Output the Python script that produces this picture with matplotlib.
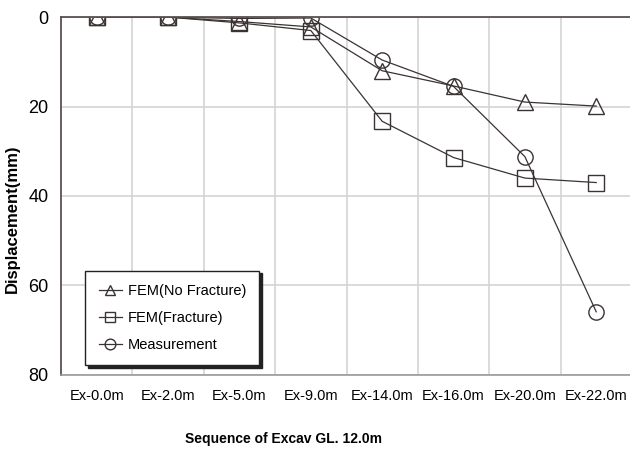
import numpy as np
import matplotlib
matplotlib.use("Agg")
import matplotlib.pyplot as plt

categories = ["Ex-0.0m", "Ex-2.0m", "Ex-5.0m", "Ex-9.0m", "Ex-14.0m", "Ex-16.0m", "Ex-20.0m", "Ex-22.0m"]
fem_no_fracture = [0, 0, 1.0, 2.2, 12.0, 15.4, 19.0, 19.9]
fem_fracture = [0, 0, 1.3, 3.0, 23.3, 31.4, 36.0, 37.0]
measurement = [0, 0, 0.3, 0.2, 9.6, 15.5, 31.2, 65.9]

plt.rcParams['font.family'] = ['Liberation Sans', 'DejaVu Sans']

fig = plt.figure(figsize=(6.3, 4.5), dpi=100)
ax = fig.add_axes([0.097, 0.167, 0.906, 0.795])

x = np.arange(len(categories))
col = "#3b3333"
ax.plot(x, fem_no_fracture, '-', marker='^', color=col, lw=0.9, ms=11,
        mfc='none', mec=col, mew=1.0, label='FEM(No Fracture)')
ax.plot(x, fem_fracture, '-', marker='s', color=col, lw=0.9, ms=11,
        mfc='none', mec=col, mew=1.0, label='FEM(Fracture)')
ax.plot(x, measurement, '-', marker='o', color=col, lw=0.9, ms=11,
        mfc='none', mec=col, mew=1.0, label='Measurement')

ax.set_xlim(-0.5, len(categories) - 0.5)
ax.set_ylim(80, 0)
ax.set_yticks([0, 20, 40, 60, 80])
ax.set_xticks(x)
ax.set_xticklabels(categories, fontsize=10.5)
ax.tick_params(axis='y', labelsize=13, pad=9)
ax.tick_params(axis='x', length=0, pad=10)
ax.tick_params(axis='y', length=0)
ax.set_xticks(np.arange(len(categories)) + 0.5, minor=True)
ax.tick_params(which='minor', length=0)
ax.grid(True, which='minor', axis='x', color='#d4d4d4', lw=1.2)
ax.grid(True, which='major', axis='y', color='#d4d4d4', lw=1.2)
ax.set_axisbelow(True)

for s in ['left', 'top']:
    ax.spines[s].set_color('#5a5050')
    ax.spines[s].set_linewidth(1.3)
ax.spines['bottom'].set_color('#9a9a9a')
ax.spines['bottom'].set_linewidth(1.2)
ax.spines['right'].set_visible(False)

ax.set_ylabel("Displacement(mm)", fontsize=12, fontweight='bold')
ax.yaxis.set_label_coords(-0.072, 0.436)
ax.set_xlabel("Sequence of Excav GL. 12.0m", fontsize=10, fontweight='bold')
ax.xaxis.set_label_coords(0.389, -0.16)

leg = ax.legend(loc='lower left', bbox_to_anchor=(0.035, 0.015), fontsize=10.5,
                fancybox=False, shadow={'color': '#222222', 'alpha': 1.0},
                edgecolor='#222222', framealpha=1, borderpad=0.9,
                labelspacing=0.9, handlelength=1.6, handletextpad=0.4,
                markerscale=0.7, borderaxespad=0.3)
leg.get_frame().set_linewidth(1.0)

fig.savefig("out.png", dpi=100)
